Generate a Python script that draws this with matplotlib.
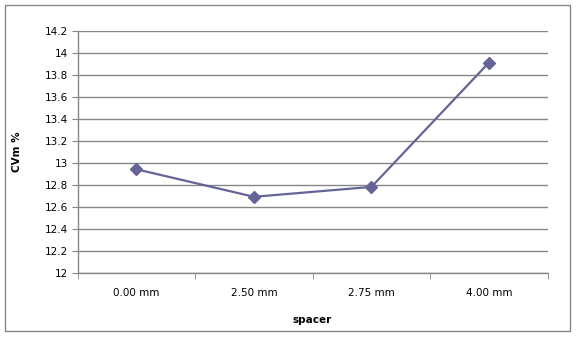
import matplotlib
matplotlib.use("Agg")
import matplotlib.pyplot as plt
from matplotlib.patches import Rectangle
import numpy as np

categories = ["0.00 mm", "2.50 mm", "2.75 mm", "4.00 mm"]
values = [12.94, 12.69, 12.78, 13.91]
yticks = [12, 12.2, 12.4, 12.6, 12.8, 13, 13.2, 13.4, 13.6, 13.8, 14, 14.2]
ytick_labels = ["12", "12.2", "12.4", "12.6", "12.8", "13", "13.2", "13.4", "13.6", "13.8", "14", "14.2"]

W, H = 577, 337
fig = plt.figure(figsize=(W/100, H/100), dpi=100)
fig.patch.set_facecolor("white")
fig.patches.append(Rectangle((5/W, 1-331/H), 565/W, 326/H, transform=fig.transFigure,
                             fill=False, edgecolor="#868686", linewidth=1.0))

ax = fig.add_axes([77.7/W, 1-272.7/H, 470/W, 242/H])
x = np.arange(len(categories))
ax.plot(x, values, color="#646496", linewidth=1.6, marker="D", markersize=6.5,
        markerfacecolor="#646496", markeredgecolor="#646496", zorder=3)

ax.set_xlim(-0.5, len(categories)-0.5)
ax.set_ylim(12, 14.2)
ax.set_yticks(yticks)
ax.set_yticklabels(ytick_labels)
ax.set_xticks(x)
ax.set_xticklabels(categories)
ax.set_xticks(np.arange(-0.5, len(categories), 1), minor=True)
ax.tick_params(axis="x", which="major", length=0, pad=11, labelsize=7.5)
ax.tick_params(axis="x", which="minor", length=4, color="#868686", direction="out")
ax.tick_params(axis="y", length=4, color="#868686", direction="out", labelsize=7.5, pad=3)
ax.grid(axis="y", color="#868686", linewidth=1)
ax.set_axisbelow(True)
for s in ["top", "right"]:
    ax.spines[s].set_visible(False)
for s in ["left", "bottom"]:
    ax.spines[s].set_color("#868686")
    ax.spines[s].set_linewidth(1)

fig.text(17/W, 1-(152)/H, "CVm %", rotation=90, ha="center", va="center",
         fontsize=7.5, fontweight="bold")
fig.text(312/W, 1-320/H, "spacer", ha="center", va="center",
         fontsize=7.5, fontweight="bold")

fig.savefig("out.png", dpi=100)
